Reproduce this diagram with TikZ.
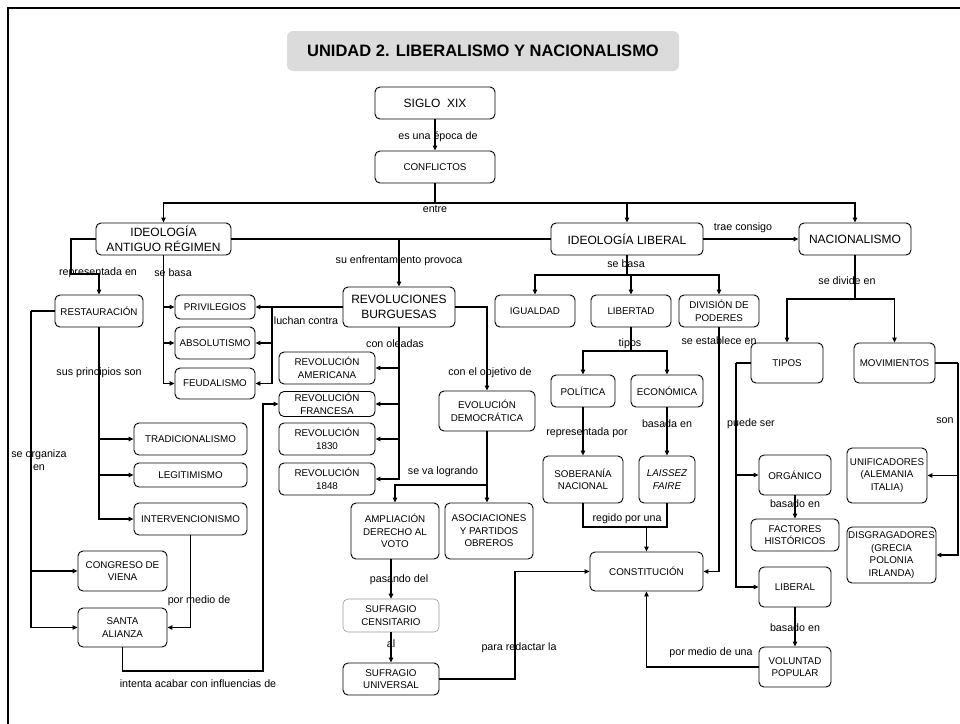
\documentclass[tikz,border=0pt]{standalone}
\usepackage{fontspec}
\setmainfont{Liberation Sans}
\usetikzlibrary{arrows.meta}

\begin{document}
\begin{tikzpicture}[x=1pt, y=-1pt, >={Triangle[length=5pt,width=4.5pt]}, line width=1.1pt,
		caja/.style={draw, line width=0.9pt, rounded corners=5pt, align=center, inner sep=1pt, font=\fontsize{9.8}{12.5}\selectfont},
		grande/.style={caja, font=\fontsize{12}{15}\selectfont},
		etiq/.style={inner sep=0pt, align=center, font=\fontsize{10.7}{12.5}\selectfont}]
	\useasboundingbox (0,0) rectangle (960,723);
	
	% 1. marco y título
	\draw[line width=2pt] (8,730) -- (8,8) -- (970,8);
	\node[fill=black!14, rounded corners=6pt, minimum width=392, minimum height=40, font=\fontsize{16.5}{18}\selectfont\bfseries] (titulo) at (483,51) {UNIDAD 2. LIBERALISMO Y NACIONALISMO};
	
	% 2. conceptos principales
	\node[grande, minimum width=120, minimum height=32] (siglo) at (435,103) {SIGLO\ \ XIX};
	\node[caja, minimum width=120, minimum height=32] (conf) at (435,167) {CONFLICTOS};
	\node[grande, minimum width=135, minimum height=32] (antiguo) at (163.5,239) {IDEOLOGÍA\\ANTIGUO RÉGIMEN};
	\node[grande, minimum width=152, minimum height=32] (liberal) at (627,239) {IDEOLOGÍA LIBERAL};
	\node[grande, minimum width=112, minimum height=32] (nac) at (855,239) {NACIONALISMO};
	\node[grande, minimum width=112, minimum height=40] (rev) at (399,307) {REVOLUCIONES\\BURGUESAS};
	
	% 3. antiguo régimen
	\node[caja, minimum width=88, minimum height=32] (restaur) at (99,311) {RESTAURACIÓN};
	\node[caja, minimum width=80, minimum height=24] (priv) at (215,307) {PRIVILEGIOS};
	\node[caja, minimum width=80, minimum height=32] (abso) at (215,343) {ABSOLUTISMO};
	\node[caja, minimum width=80, minimum height=31] (feud) at (215,383.5) {FEUDALISMO};
	\node[caja, minimum width=113, minimum height=32] (trad) at (190.5,439) {TRADICIONALISMO};
	\node[caja, minimum width=113, minimum height=24] (legi) at (190.5,475) {LEGITIMISMO};
	\node[caja, minimum width=113, minimum height=32] (inter) at (190.5,519) {INTERVENCIONISMO};
	\node[caja, minimum width=89, minimum height=40] (cong) at (122.5,571) {CONGRESO DE\\VIENA};
	\node[caja, minimum width=89, minimum height=39] (santa) at (122.5,627.5) {SANTA\\ALIANZA};
	
	% 4. revoluciones
	\node[caja, minimum width=96, minimum height=32] (ramer) at (327,368) {REVOLUCIÓN\\AMERICANA};
	\node[caja, minimum width=96, minimum height=25] (rfran) at (327,404) {REVOLUCIÓN\\FRANCESA};
	\node[caja, minimum width=96, minimum height=32] (r1830) at (327,439) {REVOLUCIÓN\\1830};
	\node[caja, minimum width=96, minimum height=32] (r1848) at (327,479) {REVOLUCIÓN\\1848};
	\node[caja, minimum width=96, minimum height=40] (evo) at (487,411) {EVOLUCIÓN\\DEMOCRÁTICA};
	\node[caja, minimum width=88, minimum height=56] (amp) at (395,531) {AMPLIACIÓN\\DERECHO AL\\VOTO};
	\node[caja, minimum width=88, minimum height=56] (aso) at (489,531) {ASOCIACIONES\\Y PARTIDOS\\OBREROS};
	\node[caja, draw=black!40, line width=0.6pt, minimum width=96, minimum height=33] (cens) at (391,615.5) {SUFRAGIO\\CENSITARIO};
	\node[caja, minimum width=96, minimum height=32] (univ) at (391,679) {SUFRAGIO\\UNIVERSAL};
	
	% 5. ideología liberal
	\node[caja, minimum width=80, minimum height=32] (igu) at (535,311) {IGUALDAD};
	\node[caja, minimum width=80, minimum height=32] (libt) at (631,311) {LIBERTAD};
	\node[caja, minimum width=80, minimum height=32] (divi) at (719,311) {DIVISIÓN DE\\PODERES};
	\node[caja, minimum width=64, minimum height=32] (pol) at (583,391) {POLÍTICA};
	\node[caja, minimum width=72, minimum height=32] (eco) at (667,391) {ECONÓMICA};
	\node[caja, minimum width=80, minimum height=47] (sob) at (583,479.5) {SOBERANÍA\\NACIONAL};
	\node[caja, minimum width=56, minimum height=47] (lais) at (667,479.5) {\itshape LAISSEZ\\\itshape FAIRE};
	\node[caja, minimum width=113, minimum height=39] (const) at (646.5,571.5) {CONSTITUCIÓN};
	
	% 6. nacionalismo
	\node[caja, minimum width=72, minimum height=40] (tipos) at (787,363) {TIPOS};
	\node[caja, minimum width=81, minimum height=40] (mov) at (894.5,363) {MOVIMIENTOS};
	\node[caja, minimum width=72, minimum height=40] (org) at (795,475) {ORGÁNICO};
	\node[caja, minimum width=88, minimum height=32] (fact) at (795,535) {FACTORES\\HISTÓRICOS};
	\node[caja, minimum width=72, minimum height=40] (libl) at (795,587) {LIBERAL};
	\node[caja, minimum width=72, minimum height=40] (vol) at (795,667) {VOLUNTAD\\POPULAR};
	\node[caja, minimum width=80, minimum height=55] (unif) at (887,475.5) {UNIFICADORES\\(ALEMANIA\\ITALIA)};
	\node[caja, minimum width=89, minimum height=56] (disg) at (891.5,555) {DISGRAGADORES\\(GRECIA\\POLONIA\\IRLANDA)};
	
	% 7. puntos de quiebre
	\coordinate (entre) at (435,203);
	\coordinate (rep) at (71,274);
	\coordinate (lucha) at (272,307);
	\coordinate (basa) at (627,275);
	\coordinate (tp) at (631,351);
	\coordinate (rg) at (625,527);
	\coordinate (logra) at (487,485);
	\coordinate (redac) at (515,625);
	\coordinate (intenta) at (263,671);
	\coordinate (organiza) at (31,311);
	\coordinate (divide) at (855,299);
	\coordinate (puede) at (736,363);
	\coordinate (son) at (958,363);
	
	% 8. conectores
	\draw[->] (siglo) -- (conf);
	\draw[->] (conf.south) -- (entre) -| (antiguo.north);
	\draw[->] (entre) -| (liberal.north);
	\draw[->] (entre) -| (nac.north);
	\draw (antiguo.east) -- (liberal.west);
	\draw[->] (rev.north |- antiguo.east) -- (rev.north);
	\draw[->] (liberal.east) -- (nac.west);
	
	\draw[->] (antiguo.west) -| (rep) -| (restaur.north);
	\draw[->] (antiguo.south) |- (priv.west);
	\draw[->] (antiguo.south) |- (abso.west);
	\draw[->] (antiguo.south) |- (feud.west);
	\draw[->] (rev.west) -- (priv.east);
	\draw[->] (lucha) |- (abso.east);
	\draw[->] (lucha) |- (feud.east);
	\draw[->] (restaur.south) |- (trad.west);
	\draw[->] (restaur.south) |- (legi.west);
	\draw[->] (restaur.south) |- (inter.west);
	\draw (restaur.west) -- (organiza);
	\draw[->] (organiza) |- (cong.west);
	\draw[->] (organiza) |- (santa.west);
	\draw[->] (inter.south) |- (santa.east);
	\draw[->] (santa.south) |- (intenta) |- (rfran.west);
	
	\draw[->] (rev.south) |- (ramer.east);
	\draw[->] (rev.south) |- (rfran.east);
	\draw[->] (rev.south) |- (r1830.east);
	\draw[->] (rev.south) |- (r1848.east);
	\draw[->] (rev.east) -| (evo.north);
	\draw[->] (evo.south) -- (logra) -| (amp.north);
	\draw[->] (logra) -- (logra |- aso.north);
	\draw[->] (cens.north |- amp.south) -- (cens.north);
	\draw[->] (cens) -- (univ);
	\draw[->] (univ.east) -| (redac) |- (const.west);
	
	\draw (liberal.south) -- (basa);
	\draw[->] (basa) -| (igu.north);
	\draw[->] (basa) -| (libt.north);
	\draw[->] (basa) -| (divi.north);
	\draw (libt.south) -- (tp);
	\draw[->] (tp) -| (pol.north);
	\draw[->] (tp) -| (eco.north);
	\draw[->] (pol) -- (sob);
	\draw[->] (eco) -- (lais);
	\draw (sob.south) |- (rg) -| (lais.south);
	\draw[->] (const.north |- rg) -- (const.north);
	\draw[->] (divi.south) |- (const.east);
	
	\draw (nac.south) -- (divide);
	\draw[->] (divide) -| (tipos.north);
	\draw[->] (divide) -| (mov.north);
	\draw (tipos.west) -- (puede);
	\draw[->] (puede) |- (org.west);
	\draw[->] (puede) |- (libl.west);
	\draw[->] (org) -- (fact);
	\draw[->] (libl) -- (vol);
	\draw[->] (vol.west) -| (const.south);
	\draw (mov.east) -- (son);
	\draw[->] (son) |- (unif.east);
	\draw[->] (son) |- (disg.east);
	
	% 9. etiquetas de los conectores
	\node[etiq] (e1) at (438,137) {es una época de};
	\node[etiq] (e2) at (435,209) {entre};
	\node[etiq] (e3) at (743,228) {trae consigo};
	\node[etiq] (e4) at (98,273) {representada en};
	\node[etiq] (e5) at (173,273) {se basa};
	\node[etiq] (e6) at (399,261) {su enfrentamiento provoca};
	\node[etiq] (e7) at (626,264) {se basa};
	\node[etiq] (e8) at (847,281) {se divide en};
	\node[etiq] (e9) at (306,321) {luchan contra};
	\node[etiq] (e10) at (395,344) {con oleadas};
	\node[etiq] (e11) at (630,344) {tipos};
	\node[etiq] (e12) at (719,341) {se establece en};
	\node[etiq] (e13) at (99,373) {sus principios son};
	\node[etiq] (e14) at (490,373) {con el objetivo de};
	\node[etiq] (e15) at (751,424) {puede ser};
	\node[etiq] (e16) at (945,421) {son};
	\node[etiq] (e17) at (587,433) {representada por};
	\node[etiq] (e18) at (667,424) {basada en};
	\node[etiq] (e19) at (39,460) {se organiza\\en};
	\node[etiq] (e20) at (443,472) {se va logrando};
	\node[etiq] (e21) at (795,504) {basado en};
	\node[etiq] (e22) at (627,519) {regido por una};
	\node[etiq] (e23) at (399,580) {pasando del};
	\node[etiq] (e24) at (199,601) {por medio de};
	\node[etiq] (e25) at (795,628) {basado en};
	\node[etiq] (e26) at (391,644) {al};
	\node[etiq] (e27) at (519,648) {para redactar la};
	\node[etiq] (e28) at (711,653) {por medio de una};
	\node[etiq] (e29) at (198,684) {intenta acabar con influencias de};
\end{tikzpicture}
\end{document}
